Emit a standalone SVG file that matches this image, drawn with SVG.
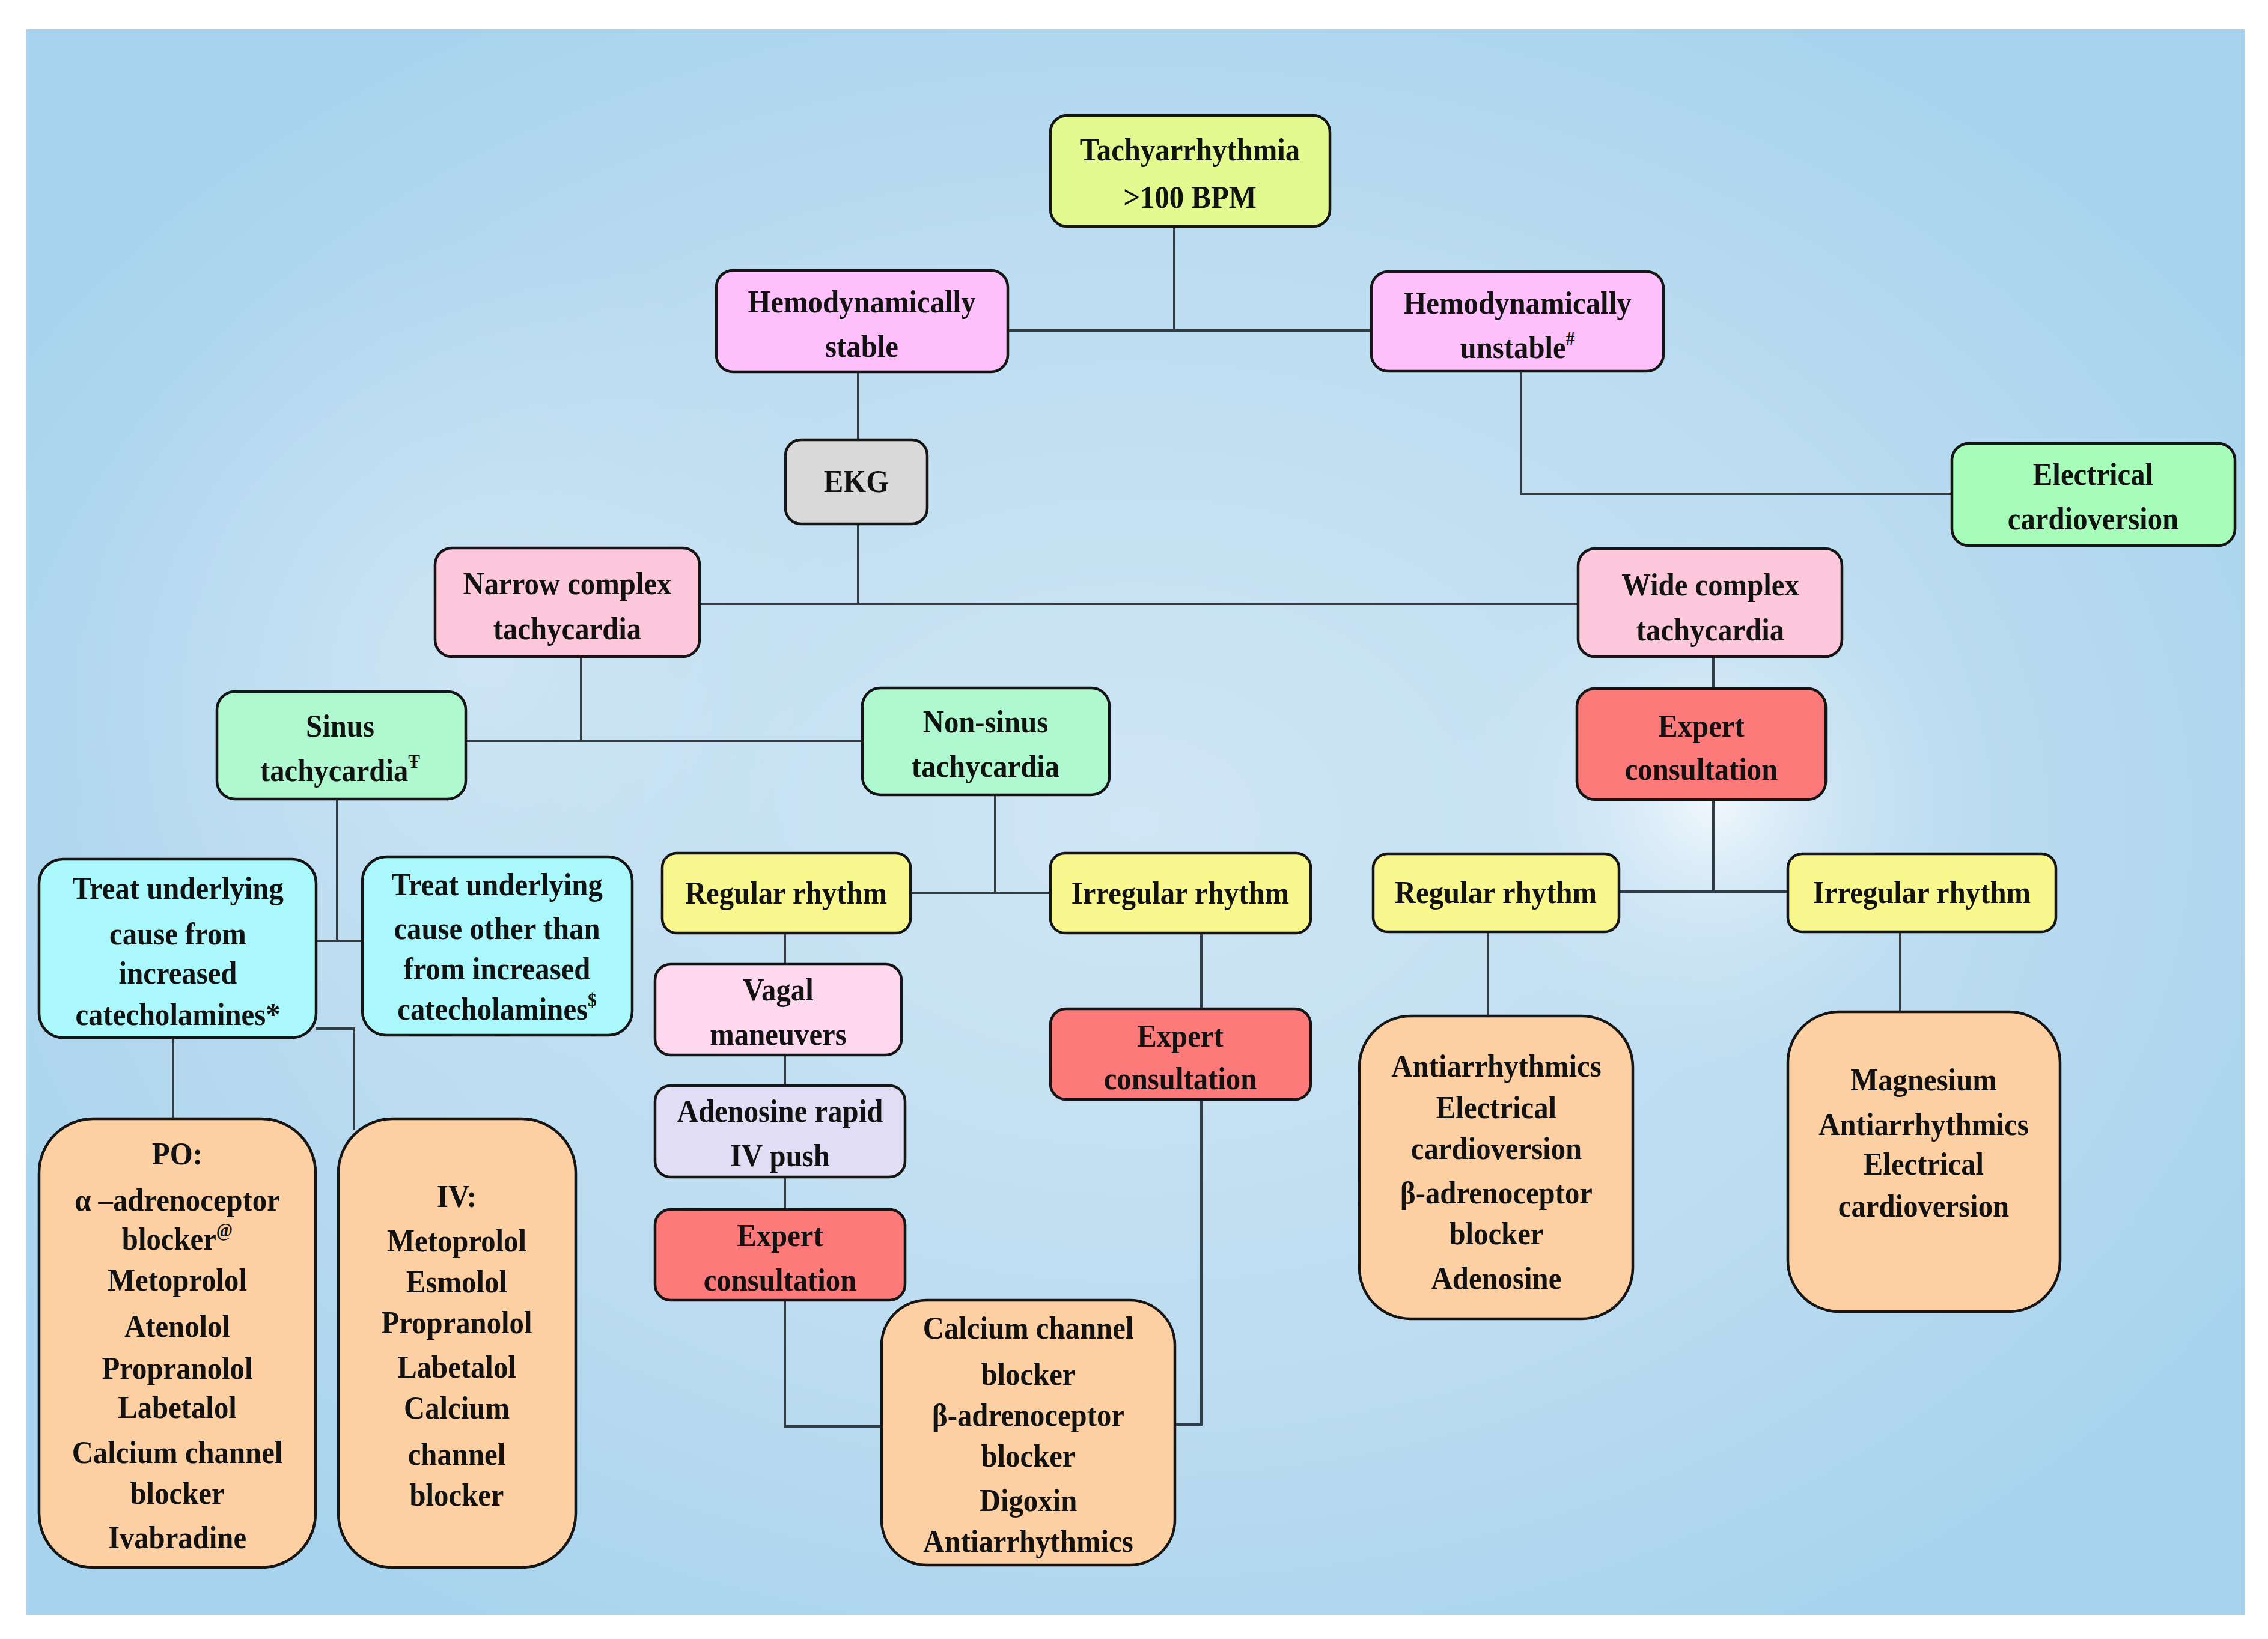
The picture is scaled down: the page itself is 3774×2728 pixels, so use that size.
<svg xmlns="http://www.w3.org/2000/svg" width="3774" height="2728" viewBox="0 0 3774 2728">
<defs>
<radialGradient id="bgR" cx="0.5" cy="0.5" r="0.6" gradientUnits="objectBoundingBox">
<stop offset="0" stop-color="#cfe6f5"/>
<stop offset="0.6" stop-color="#bcdcf0"/>
<stop offset="1" stop-color="#a7d3ee"/>
</radialGradient>
<radialGradient id="spot" cx="2850" cy="1330" r="460" gradientUnits="userSpaceOnUse">
<stop offset="0" stop-color="#f4f9fd" stop-opacity="0.95"/>
<stop offset="0.45" stop-color="#dcedf8" stop-opacity="0.5"/>
<stop offset="1" stop-color="#c8e3f4" stop-opacity="0"/>
</radialGradient>
<radialGradient id="spot2" cx="800" cy="1100" r="700" gradientUnits="userSpaceOnUse">
<stop offset="0" stop-color="#d4e8f6" stop-opacity="0.7"/>
<stop offset="1" stop-color="#c8e3f4" stop-opacity="0"/>
</radialGradient>
</defs>
<style>
.n{stroke:#151515;stroke-width:4.5}
.c{fill:none;stroke:#323c44;stroke-width:4}
.t{font-family:"Liberation Serif","Times New Roman",serif;font-weight:bold;font-size:53px;fill:#121212;text-anchor:middle}
.sup{font-size:32px}
.yg{fill:#e3fa90}.pk{fill:#fdc0fb}.gr{fill:#a6fcb8}.gy{fill:#d9d9d9}.rs{fill:#fec8dc}.mt{fill:#b0f9d0}
.rd{fill:#fd7a7a}.yl{fill:#f8f88e}.cy{fill:#aaf8fc}.vg{fill:#fed8ee}.lv{fill:#e1ddf5}.or{fill:#fdd0a4}
</style>
<rect x="0" y="0" width="3774" height="2728" fill="#ffffff"/>
<rect x="44" y="49" width="3691" height="2639" fill="url(#bgR)"/>
<rect x="44" y="49" width="3691" height="2639" fill="url(#spot2)"/>
<rect x="44" y="49" width="3691" height="2639" fill="url(#spot)"/>

<g id="connectors">
<path class="c" d="M1954 377 V550 M1677 550 H2282"/>
<path class="c" d="M1428 619 V732"/>
<path class="c" d="M2531 618 V822 H3248"/>
<path class="c" d="M1428 872 V1005 M1164 1005 H2626"/>
<path class="c" d="M967 1093 V1233 M775 1233 H1435"/>
<path class="c" d="M561 1330 V1566 M526 1566 H603"/>
<path class="c" d="M288 1727 V1862 M526 1712 H589 V1880"/>
<path class="c" d="M1656 1323 V1486 M1515 1486 H1748"/>
<path class="c" d="M1306 1553 V1605 M1306 1756 V1807 M1306 1959 V2013 M1306 2164 V2374 H1467"/>
<path class="c" d="M1999 1553 V1679 M1999 1830 V2371 H1955"/>
<path class="c" d="M2851 1093 V1146 M2851 1331 V1484 M2694 1484 H2975"/>
<path class="c" d="M2476 1551 V1691 M3162 1551 V1684"/>
</g>

<g id="tachyarrhythmia">
<rect class="n yg" x="1748" y="192" width="465" height="185" rx="28"/>
<g transform="matrix(0.92 0 0 1 158.4 0)">
<text class="t" x="1980" y="267">Tachyarrhythmia</text>
<text class="t" x="1980" y="346">&gt;100 BPM</text>
</g>
</g>
<g id="stable">
<rect class="n pk" x="1192" y="450" width="485" height="169" rx="28"/>
<g transform="matrix(0.92 0 0 1 114.72 0)">
<text class="t" x="1434" y="520">Hemodynamically</text>
<text class="t" x="1434" y="594">stable</text>
</g>
</g>
<g id="unstable">
<rect class="n pk" x="2282" y="452" width="486" height="166" rx="28"/>
<g transform="matrix(0.92 0 0 1 202 0)">
<text class="t" x="2525" y="522">Hemodynamically</text>
<text class="t" x="2525" y="596">unstable<tspan class="sup" dy="-22">#</tspan></text>
</g>
</g>
<g id="electrical">
<rect class="n gr" x="3248" y="738" width="471" height="170" rx="28"/>
<g transform="matrix(0.92 0 0 1 278.64 0)">
<text class="t" x="3483" y="807">Electrical</text>
<text class="t" x="3483" y="881">cardioversion</text>
</g>
</g>
<g id="ekg">
<rect class="n gy" x="1307" y="732" width="236" height="140" rx="26"/>
<g transform="matrix(0.92 0 0 1 114 0)">
<text class="t" x="1425" y="819">EKG</text>
</g>
</g>
<g id="narrow">
<rect class="n rs" x="724" y="912" width="440" height="181" rx="28"/>
<g transform="matrix(0.92 0 0 1 75.52 0)">
<text class="t" x="944" y="989">Narrow complex</text>
<text class="t" x="944" y="1064">tachycardia</text>
</g>
</g>
<g id="wide">
<rect class="n rs" x="2626" y="913" width="439" height="180" rx="28"/>
<g transform="matrix(0.92 0 0 1 227.68 0)">
<text class="t" x="2846" y="991">Wide complex</text>
<text class="t" x="2846" y="1066">tachycardia</text>
</g>
</g>
<g id="sinus">
<rect class="n mt" x="361" y="1151" width="414" height="179" rx="30"/>
<g transform="matrix(0.92 0 0 1 45.28 0)">
<text class="t" x="566" y="1226">Sinus</text>
<text class="t" x="566" y="1300">tachycardia<tspan class="sup" dy="-22">Ŧ</tspan></text>
</g>
</g>
<g id="nonsinus">
<rect class="n mt" x="1435" y="1145" width="411" height="178" rx="30"/>
<g transform="matrix(0.92 0 0 1 131.2 0)">
<text class="t" x="1640" y="1219">Non-sinus</text>
<text class="t" x="1640" y="1293">tachycardia</text>
</g>
</g>
<g id="expert-wide">
<rect class="n rd" x="2624" y="1146" width="414" height="185" rx="30"/>
<g transform="matrix(0.92 0 0 1 226.48 0)">
<text class="t" x="2831" y="1226">Expert</text>
<text class="t" x="2831" y="1298">consultation</text>
</g>
</g>
<g id="regular-narrow">
<rect class="n yl" x="1102" y="1420" width="413" height="133" rx="24"/>
<g transform="matrix(0.92 0 0 1 104.64 0)">
<text class="t" x="1308" y="1504">Regular rhythm</text>
</g>
</g>
<g id="irregular-narrow">
<rect class="n yl" x="1748" y="1420" width="433" height="133" rx="24"/>
<g transform="matrix(0.92 0 0 1 157.12 0)">
<text class="t" x="1964" y="1504">Irregular rhythm</text>
</g>
</g>
<g id="regular-wide">
<rect class="n yl" x="2285" y="1421" width="409" height="130" rx="24"/>
<g transform="matrix(0.92 0 0 1 199.12 0)">
<text class="t" x="2489" y="1503">Regular rhythm</text>
</g>
</g>
<g id="irregular-wide">
<rect class="n yl" x="2975" y="1421" width="446" height="130" rx="24"/>
<g transform="matrix(0.92 0 0 1 255.84 0)">
<text class="t" x="3198" y="1503">Irregular rhythm</text>
</g>
</g>
<g id="treat-catecholamines">
<rect class="n cy" x="65" y="1430" width="461" height="297" rx="40"/>
<g transform="matrix(0.92 0 0 1 23.68 0)">
<text class="t" x="296" y="1496">Treat underlying</text>
<text class="t" x="296" y="1572">cause from</text>
<text class="t" x="296" y="1637">increased</text>
<text class="t" x="296" y="1706">catecholamines*</text>
</g>
</g>
<g id="treat-other">
<rect class="n cy" x="603" y="1426" width="449" height="297" rx="40"/>
<g transform="matrix(0.92 0 0 1 66.16 0)">
<text class="t" x="827" y="1490">Treat underlying</text>
<text class="t" x="827" y="1563">cause other than</text>
<text class="t" x="827" y="1630">from increased</text>
<text class="t" x="827" y="1697">catecholamines<tspan class="sup" dy="-22">$</tspan></text>
</g>
</g>
<g id="vagal">
<rect class="n vg" x="1090" y="1605" width="410" height="151" rx="26"/>
<g transform="matrix(0.92 0 0 1 103.6 0)">
<text class="t" x="1295" y="1665">Vagal</text>
<text class="t" x="1295" y="1739">maneuvers</text>
</g>
</g>
<g id="adenosine">
<rect class="n lv" x="1090" y="1807" width="416" height="152" rx="26"/>
<g transform="matrix(0.92 0 0 1 103.84 0)">
<text class="t" x="1298" y="1867">Adenosine rapid</text>
<text class="t" x="1298" y="1941">IV push</text>
</g>
</g>
<g id="expert-regular">
<rect class="n rd" x="1090" y="2013" width="416" height="151" rx="26"/>
<g transform="matrix(0.92 0 0 1 103.84 0)">
<text class="t" x="1298" y="2074">Expert</text>
<text class="t" x="1298" y="2148">consultation</text>
</g>
</g>
<g id="expert-irregular">
<rect class="n rd" x="1748" y="1679" width="433" height="151" rx="26"/>
<g transform="matrix(0.92 0 0 1 157.12 0)">
<text class="t" x="1964" y="1742">Expert</text>
<text class="t" x="1964" y="1813">consultation</text>
</g>
</g>
<g id="po">
<rect class="n or" x="65" y="1862" width="460" height="747" rx="90"/>
<g transform="matrix(0.92 0 0 1 23.6 0)">
<text class="t" x="295" y="1938">PO:</text>
<text class="t" x="295" y="2015">α –adrenoceptor</text>
<text class="t" x="295" y="2080">blocker<tspan class="sup" dy="-22">@</tspan></text>
<text class="t" x="295" y="2148">Metoprolol</text>
<text class="t" x="295" y="2225">Atenolol</text>
<text class="t" x="295" y="2295">Propranolol</text>
<text class="t" x="295" y="2360">Labetalol</text>
<text class="t" x="295" y="2435">Calcium channel</text>
<text class="t" x="295" y="2503">blocker</text>
<text class="t" x="295" y="2577">Ivabradine</text>
</g>
</g>
<g id="iv">
<rect class="n or" x="563" y="1862" width="395" height="747" rx="90"/>
<g transform="matrix(0.92 0 0 1 60.8 0)">
<text class="t" x="760" y="2009">IV:</text>
<text class="t" x="760" y="2083">Metoprolol</text>
<text class="t" x="760" y="2151">Esmolol</text>
<text class="t" x="760" y="2219">Propranolol</text>
<text class="t" x="760" y="2293">Labetalol</text>
<text class="t" x="760" y="2361">Calcium</text>
<text class="t" x="760" y="2438">channel</text>
<text class="t" x="760" y="2506">blocker</text>
</g>
</g>
<g id="calcium">
<rect class="n or" x="1467" y="2164" width="488" height="441" rx="75"/>
<g transform="matrix(0.92 0 0 1 136.88 0)">
<text class="t" x="1711" y="2228">Calcium channel</text>
<text class="t" x="1711" y="2305">blocker</text>
<text class="t" x="1711" y="2373">β-adrenoceptor</text>
<text class="t" x="1711" y="2441">blocker</text>
<text class="t" x="1711" y="2515">Digoxin</text>
<text class="t" x="1711" y="2583">Antiarrhythmics</text>
</g>
</g>
<g id="antiarrhythmics">
<rect class="n or" x="2262" y="1691" width="455" height="504" rx="85"/>
<g transform="matrix(0.92 0 0 1 199.2 0)">
<text class="t" x="2490" y="1792">Antiarrhythmics</text>
<text class="t" x="2490" y="1861">Electrical</text>
<text class="t" x="2490" y="1929">cardioversion</text>
<text class="t" x="2490" y="2003">β-adrenoceptor</text>
<text class="t" x="2490" y="2071">blocker</text>
<text class="t" x="2490" y="2145">Adenosine</text>
</g>
</g>
<g id="magnesium">
<rect class="n or" x="2975" y="1684" width="453" height="499" rx="85"/>
<g transform="matrix(0.92 0 0 1 256.08 0)">
<text class="t" x="3201" y="1815">Magnesium</text>
<text class="t" x="3201" y="1889">Antiarrhythmics</text>
<text class="t" x="3201" y="1955">Electrical</text>
<text class="t" x="3201" y="2025">cardioversion</text>
</g>
</g>
</svg>
